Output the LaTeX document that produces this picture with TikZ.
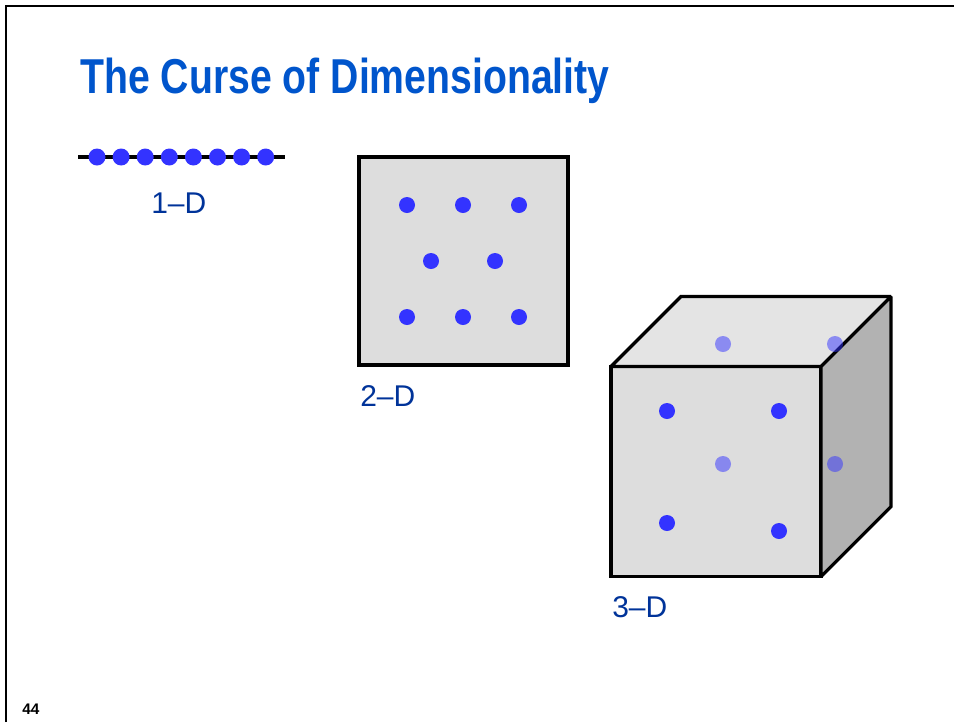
\documentclass[tikz,border=0pt]{standalone}
\usepackage{fontspec}
\setmainfont{Liberation Sans}
\newfontfamily\titlefont[FakeStretch=0.8]{Liberation Sans}
\usetikzlibrary{%
	calc,%
	positioning,%
}
\definecolor{ctitle}{RGB}{0, 85, 204}
\definecolor{clabel}{RGB}{0, 51, 153}
\definecolor{cdot}{RGB}{51, 51, 255}
\definecolor{cfront}{RGB}{221, 221, 221}
\definecolor{ctop}{RGB}{228, 228, 228}
\definecolor{cside}{RGB}{178, 178, 178}
\tikzset{
	dot/.style={%
			circle,%
			fill=cdot,%
			inner sep=0,%
			minimum size=12pt},%
	hiddendot/.style={%
			dot,%
			fill opacity=0.5},%
	face/.style={%
			draw,%
			line width=2.4pt,%
			line join=miter,%
			miter limit=2},%
	facebox/.style={%
			face,%
			rectangle,%
			fill=cfront,%
			outer sep=0,%
			minimum width=157.5pt,%
			minimum height=157.5pt},%
	dimlabel/.style={%
			anchor=base west,%
			inner sep=0,%
			text=clabel,%
			font={\fontsize{22.5}{27}\selectfont}},%
}

\begin{document}
\begin{tikzpicture}[x=0.75pt, y=-0.75pt]
	\useasboundingbox (0,0) rectangle (954,722);

	% slide frame and texts
	\draw[line width=1.8pt] (6,722) -- (6,6) -- (954,6);
	\node[anchor=base west, inner sep=0, text=ctitle, font={\titlefont\bfseries\fontsize{36.75}{44}\selectfont}] (title) at (80,93) {The Curse of Dimensionality};
	\node[anchor=base west, inner sep=0, font={\bfseries\fontsize{11.5}{13}\selectfont}] (page) at (22,714) {44};

	% 1-D
	\coordinate (linea) at (78,157);
	\coordinate (lineb) at (285,157);
	\draw[line width=2.4pt] (linea) -- (lineb);
	\foreach \i in {0,...,7}
		\node[dot, minimum size=12.75pt] (one\i) at ({97+24.1*\i},157) {};
	\node[dimlabel] (onelabel) at (151,213) {1--D};

	% 2-D
	\node[facebox, minimum width=156.75pt, minimum height=156pt] (square) at (463.5,261) {};
	\foreach \x/\y [count=\n] in {407/205, 463/205, 519/205, 431/261, 495/261, 407/317, 463/317, 519/317}
		\node[dot] (two\n) at (\x,\y) {};
	\node[dimlabel] (twolabel) at (360,406) {2--D};

	% 3-D
	\node[facebox] (cube) at (716,471.5) {};
	\draw[face, fill=ctop] (cube.north west) -- ++(70,-70) -- ++(210,0) -- (cube.north east) -- cycle;
	\draw[face, fill=cside] (cube.north east) -- ++(70,-70) -- ++(0,210) -- (cube.south east) -- cycle;
	\foreach \x/\y [count=\n] in {667/411, 779/411, 667/523, 779/531}
		\node[dot] (three\n) at (\x,\y) {};
	\foreach \x/\y [count=\n] in {723/344, 835/344, 723/464, 835/464}
		\node[hiddendot] (back\n) at (\x,\y) {};
	\node[dimlabel] (threelabel) at (612,617) {3--D};
\end{tikzpicture}
\end{document}
